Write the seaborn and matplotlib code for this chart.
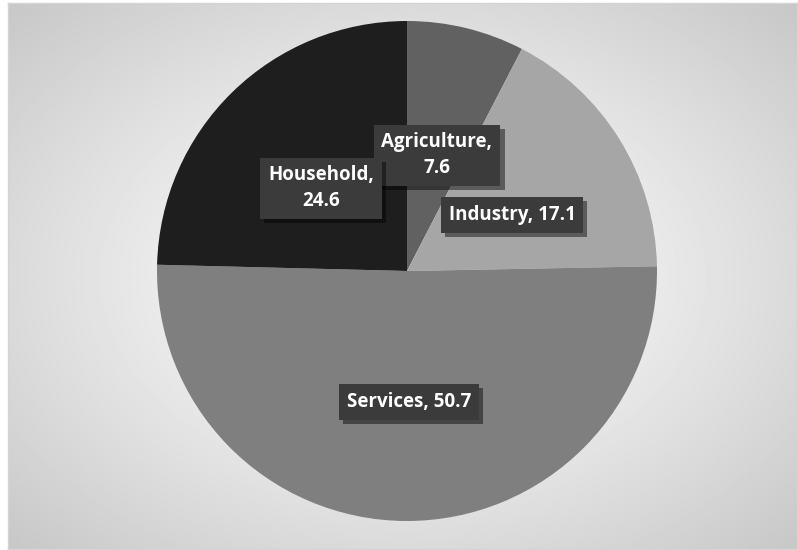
import matplotlib.pyplot as plt
import matplotlib.patheffects as pe
import numpy as np
import seaborn as sns

sns.set_style("white")

sectors = ["Agriculture", "Industry", "Services", "Household"]
shares = [7.6, 17.1, 50.7, 24.6]
colors = ["#616161", "#a6a6a6", "#7f7f7f", "#1e1e1e"]
label_text = ["Agriculture,\n7.6", "Industry, 17.1", "Services, 50.7", "Household,\n24.6"]
label_pos = [(0.12, 0.464), (0.42, 0.224), (0.008, -0.524), (-0.344, 0.332)]

W, H = 798, 550
fig = plt.figure(figsize=(W / 100, H / 100), dpi=100)
fig.patch.set_facecolor("white")

# radial gradient background of the chart area
bg = fig.add_axes([8 / W, 1 / H, (W - 9) / W, (H - 4) / H])
yy, xx = np.mgrid[0:300, 0:440]
d = np.sqrt(((xx - 220) / 220) ** 2 + ((yy - 150) / 150) ** 2) / np.sqrt(2)
shade = 1.0 - 0.22 * np.clip(d, 0, 1) ** 1.2
bg.imshow(shade, cmap="gray", vmin=0, vmax=1, aspect="auto", extent=[0, 1, 0, 1])
bg.set_xticks([])
bg.set_yticks([])
for s in bg.spines.values():
    s.set_color("#d4d4d4")
    s.set_linewidth(1)

ax = fig.add_axes([157 / W, (H - 521) / H, 500 / W, 500 / H])
ax.pie(shares, colors=colors, startangle=90, counterclock=False, radius=1,
       wedgeprops=dict(linewidth=0))
ax.set_xlim(-1, 1)
ax.set_ylim(-1, 1)
ax.set_aspect("equal")
ax.axis("off")

for txt, (x, y) in zip(label_text, label_pos):
    t = ax.text(x, y, txt, ha="center", va="center", color="white",
                fontsize=13.5, fontweight="bold", family="Open Sans",
                linespacing=1.35,
                bbox=dict(boxstyle="square,pad=0.42", fc="#3b3b3b", ec="none"))
    t.get_bbox_patch().set_path_effects([
        pe.SimplePatchShadow(offset=(3, -3), shadow_rgbFace="black", alpha=0.45),
        pe.Normal()])

fig.savefig("out.png", dpi=100)
